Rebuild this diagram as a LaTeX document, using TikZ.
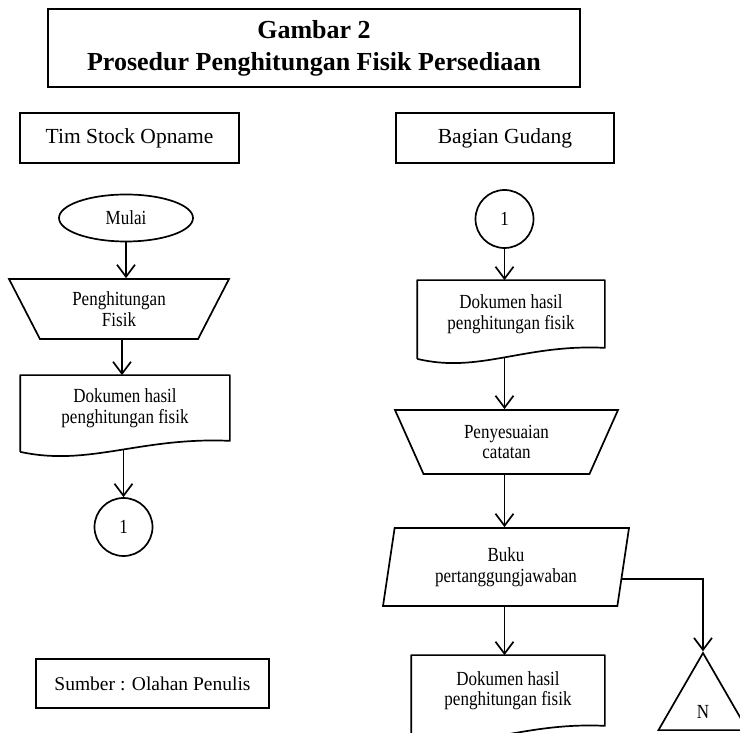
\documentclass[tikz,border=0pt]{standalone}
\usepackage{fontspec}
\setmainfont{Liberation Serif}
\newfontfamily\sempit[FakeStretch=0.85]{Liberation Serif}
\usetikzlibrary{shapes.geometric,arrows.meta,calc}

\begin{document}
\begin{tikzpicture}[x=1pt,y=1pt,line width=1.7pt,
    kotak/.style={draw,rectangle,minimum height=50,font=\fontsize{21.5}{26}\selectfont},
    teks/.style={font=\sempit\fontsize{20}{20.5}\selectfont,align=center},
    dok/.style={teks,rectangle,inner sep=0},
    manual/.style={teks,draw,trapezium,trapezium stretches body,shape border rotate=180},
    lingkar/.style={teks,draw,circle,inner sep=0,minimum size=58},
    panah/.style={-{Straight Barb[length=12pt,width=18pt]}}
  ]
  \useasboundingbox (0,0) rectangle (740,732);

  % bentuk dokumen: tepi bawah bergelombang
  \newcommand{\dokumen}[1]{
    \draw[line join=round] ([yshift=-11]#1.south west) -- (#1.north west) -- (#1.north east) -- (#1.south east)
      .. controls ($(#1.south west)!0.57!(#1.south east)+(0,4)$) and ($(#1.south west)!0.33!(#1.south east)+(0,-26)$)
      .. ([yshift=-11]#1.south west);
  }

  % judul
  \node[draw,minimum width=532,minimum height=78,align=center,
        font=\fontsize{26}{32}\selectfont\bfseries] (judul) at (314,684)
        {Gambar 2\\Prosedur Penghitungan Fisik Persediaan};

  \node[kotak,minimum width=219] (tim) at (129.5,594) {Tim Stock Opname};
  \node[kotak,minimum width=218] (gudang) at (505,594) {Bagian Gudang};

  % Tim Stock Opname
  \node[teks,draw,ellipse,minimum width=134,minimum height=47] (mulai) at (126,514) {Mulai};
  \node[manual,minimum width=220,minimum height=60,
        trapezium left angle=53.13,trapezium right angle=53.13] (hitung) at (119,423)
        {Penghitungan\\Fisik};
  \node[dok,minimum width=208,minimum height=64] (dok1) at (125,324)
        {Dokumen hasil\\penghitungan fisik};
  \dokumen{dok1}
  \node[lingkar] (sambung1) at (123.5,205) {1};
  \node[draw,rectangle,minimum width=233,minimum height=49,
        font=\fontsize{19.5}{23}\selectfont] (sumber) at (152.5,48.5) {Sumber : Olahan Penulis};

  \draw[panah] (mulai) -- (mulai |- hitung.north);
  \draw[panah] ([xshift=3]hitung.south) -- ([xshift=3]hitung.south |- dok1.north);
  \draw[panah] ([yshift=-9]sambung1 |- dok1.south) -- (sambung1.north);

  % Bagian Gudang
  \node[lingkar] (sambung2) at (504.5,513) {1};
  \node[dok,minimum width=186,minimum height=66] (dok2) at (511,418)
        {Dokumen hasil\\penghitungan fisik};
  \dokumen{dok2}
  \node[manual,minimum width=223,minimum height=64,
        trapezium left angle=54.9,trapezium right angle=54.9] (sesuai) at (506.5,290)
        {Penyesuaian\\catatan};
  \node[teks,draw,trapezium,trapezium stretches body,minimum width=246,minimum height=78,
        trapezium left angle=75.6,trapezium right angle=104.4] (buku) at (506,165)
        {Buku\\pertanggungjawaban};
  \node[dok,minimum width=192,minimum height=69] (dok3) at (508,41.5)
        {Dokumen hasil\\penghitungan fisik};
  \dokumen{dok3}
  \node[draw,regular polygon,regular polygon sides=3,minimum size=102.8,inner sep=0] (arsip) at (703,27.6) {};
  \node[teks] (n) at (703,20) {N};

  \draw[panah] (sambung2) -- (sambung2 |- dok2.north);
  \draw[panah] ([yshift=-9]sambung2 |- dok2.south) -- (sambung2 |- sesuai.north);
  \draw[panah] (sambung2 |- sesuai.south) -- (sambung2 |- buku.north);
  \draw[panah] (sambung2 |- buku.south) -- (sambung2 |- dok3.north);
  \draw[panah] ($(buku.bottom right corner)!0.35!(buku.top right corner)$) -| (arsip.corner 1);

\end{tikzpicture}
\end{document}
